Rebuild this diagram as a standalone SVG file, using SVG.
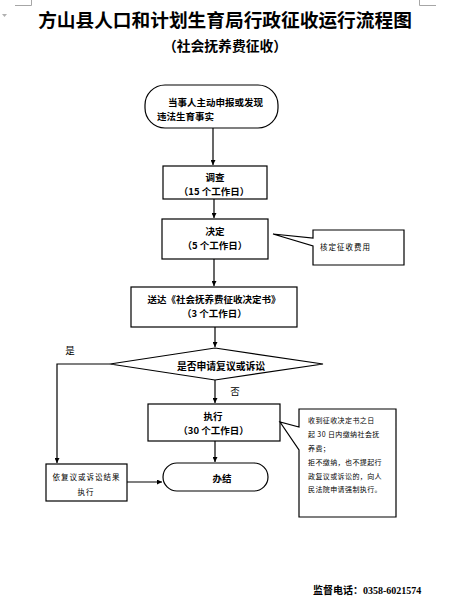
<svg xmlns="http://www.w3.org/2000/svg" width="451" height="616" viewBox="0 0 451 616">
<defs>
<style>
.t{font-family:"Noto Sans CJK SC","Noto Sans",sans-serif;fill:#000;dominant-baseline:central}
.b{font-weight:bold;font-size:9.5px}
.c{text-anchor:middle}
.s{font-size:7px;letter-spacing:0.4px}
.s2{font-size:7.5px;letter-spacing:1px}
.box{fill:#fff;stroke:#000;stroke-width:1.2}
.ln{fill:none;stroke:#000;stroke-width:1.2}
.mk{fill:none;stroke:#a6a6a6;stroke-width:1}
</style>
<marker id="ah" viewBox="0 0 10 10" refX="10" refY="5" markerWidth="5" markerHeight="5" orient="auto" markerUnits="userSpaceOnUse">
<path d="M0,0 L10,5 L0,10 Z" fill="#000"/>
</marker>
</defs>
<rect width="451" height="616" fill="#fff"/>
<polyline class="mk" points="15,5.5 31.5,5.5 31.5,0"/>
<polyline class="mk" points="419.5,0 419.5,5.5 436,5.5"/>
<path d="M2,14 L7,14 L4.5,17 Z" fill="#b0b0b0"/>

<text class="t" x="225" y="18.5" text-anchor="middle" font-size="18.7" font-weight="bold">方山县人口和计划生育局行政征收运行流程图</text>
<text class="t" x="225" y="45" text-anchor="middle" font-size="13.8" font-weight="bold">（社会抚养费征收）</text>

<g id="connectors">
<line class="ln" x1="213" y1="128" x2="213" y2="165" marker-end="url(#ah)"/>
<line class="ln" x1="214" y1="199" x2="214" y2="218" marker-end="url(#ah)"/>
<line class="ln" x1="214" y1="259" x2="214" y2="286" marker-end="url(#ah)"/>
<line class="ln" x1="215" y1="327" x2="215" y2="347" marker-end="url(#ah)"/>
<line class="ln" x1="215" y1="380" x2="215" y2="403" marker-end="url(#ah)"/>
<polyline class="ln" points="110,364 57,364 57,463" marker-end="url(#ah)"/>
<line class="ln" x1="215" y1="441" x2="215" y2="462" marker-end="url(#ah)"/>
<line class="ln" x1="127" y1="482" x2="162" y2="482" marker-end="url(#ah)"/>
<text class="t" x="70" y="350" font-size="9.5" text-anchor="middle">是</text>
<text class="t" x="235" y="391" font-size="9.5" text-anchor="middle">否</text>
</g>

<g id="start">
<rect class="box" x="145" y="85" width="133" height="43" rx="20"/>
<text class="t b" x="168" y="101.5" font-size="10">当事人主动申报或发现</text>
<text class="t b" x="157" y="115.5" font-size="10">违法生育事实</text>
</g>

<g id="investigate">
<rect class="box" x="163" y="166" width="104" height="33"/>
<text class="t b c" x="215" y="177">调查</text>
<text class="t b c" x="214" y="191">（15 个工作日）</text>
</g>

<g id="decide">
<rect class="box" x="162" y="219" width="106" height="40"/>
<text class="t b c" x="215" y="231">决定</text>
<text class="t b c" x="215" y="245">（5 个工作日）</text>
</g>

<g id="note-fee">
<path class="box" d="M313,238 L313,230 L404,230 L404,265 L313,265 L313,246 L273,234 Z"/>
<text class="t s2" x="320" y="246">核定征收费用</text>
</g>

<g id="deliver">
<rect class="box" x="131" y="287" width="166" height="40"/>
<text class="t b c" x="214" y="298.5" font-size="10">送达《社会抚养费征收决定书》</text>
<text class="t b c" x="214.5" y="312.5">（3 个工作日）</text>
</g>

<g id="decision">
<polygon class="box" points="110,364 215,348 323,364 215,380"/>
<text class="t c" x="221" y="365.5" font-size="9.8" font-weight="bold">是否申请复议或诉讼</text>
</g>

<g id="execute">
<rect class="box" x="148" y="404" width="132" height="37"/>
<text class="t b c" x="213" y="415.5">执行</text>
<text class="t b c" x="213.5" y="429.5">（30 个工作日）</text>
</g>

<g id="note-pay">
<path class="box" d="M299,427 L299,409 L396,409 L396,517 L299,517 L299,450 L280,422 Z"/>
<text class="t s" x="308" y="420">收到征收决定书之日</text>
<text class="t s" x="308" y="434">起 30 日内缴纳社会抚</text>
<text class="t s" x="308" y="448">养费；</text>
<text class="t s" x="308" y="462">拒不缴纳，也不提起行</text>
<text class="t s" x="308" y="476">政复议或诉讼的，向人</text>
<text class="t s" x="308" y="489">民法院申请强制执行。</text>
</g>

<g id="review-result">
<rect class="box" x="46" y="464" width="81" height="37"/>
<text class="t s2 c" x="86.5" y="476">依复议或诉讼结果</text>
<text class="t s2 c" x="86" y="491">执行</text>
</g>

<g id="end">
<rect class="box" x="163" y="463" width="105" height="28" rx="14"/>
<text class="t b c" x="222" y="478" font-size="10">办结</text>
</g>

<text x="313" y="590" font-family="'Liberation Serif','Noto Sans CJK SC',serif" font-size="10" font-weight="bold" dominant-baseline="central" fill="#000">监督电话：0358-6021574</text>
</svg>
